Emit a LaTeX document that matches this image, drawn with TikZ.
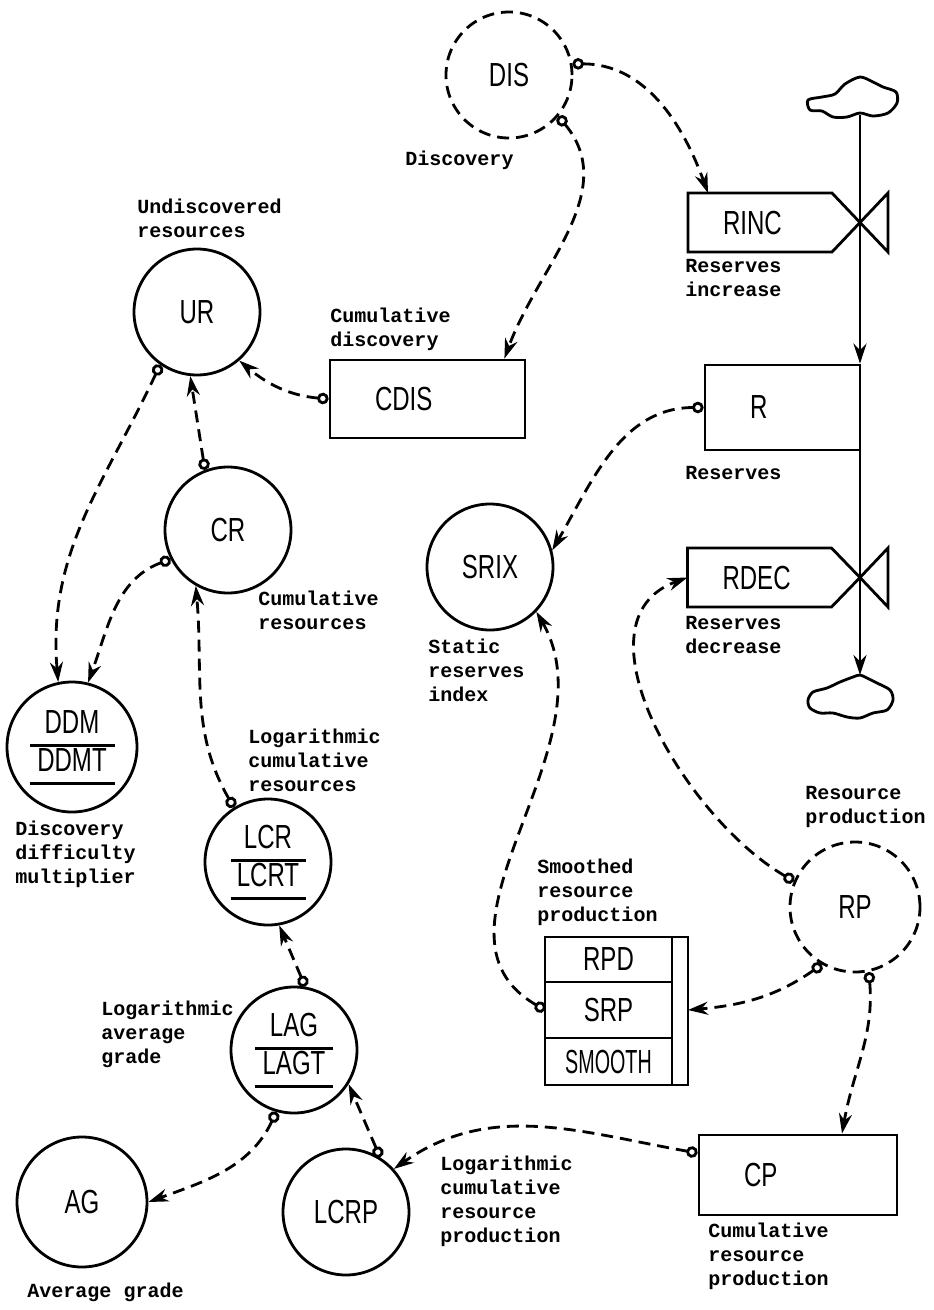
\documentclass[tikz,border=0pt]{standalone}
\usepackage{fontspec}
\usepackage{tikz}
\usetikzlibrary{arrows.meta}

\newfontfamily\namefont[FakeStretch=0.72]{Liberation Sans}
\newfontfamily\notefont{Liberation Mono}
% two stacked names, each with a bar beneath
\newcommand{\tabvar}[3]{\setlength{\arrayrulewidth}{1.6pt}\renewcommand{\arraystretch}{0.9}%
  \begin{tabular}{@{}c@{}}\makebox[#3]{#1}\\\hline\makebox[#3]{#2}\\\hline\end{tabular}}

\begin{document}
\begin{tikzpicture}[
    var/.style={circle,draw,line width=1.6pt,minimum size=2.52cm,inner sep=0pt,
                font=\namefont\fontsize{19}{22}\selectfont},
    auxvar/.style={var,dash pattern=on 2.4mm off 1.4mm},
    levelbox/.style={rectangle,draw,line width=1.6pt,align=left,inner xsep=0.9cm,inner ysep=0pt,
                font=\namefont\fontsize{19}{22}\selectfont},
    ratebox/.style={rectangle,minimum width=2.88cm,minimum height=1.18cm,inner ysep=0pt,
                inner xsep=0.7cm,text width=1.48cm,align=left,outer sep=0pt,
                font=\namefont\fontsize{19}{22}\selectfont},
    cell/.style={rectangle,draw,line width=1.6pt,minimum width=2.54cm,inner sep=0pt,outer sep=0pt,
                font=\namefont\fontsize{19}{22}\selectfont},
    note/.style={anchor=north west,inner sep=0pt,align=left,
                font=\notefont\bfseries\fontsize{11.4}{13.6}\selectfont},
    info/.style={line width=1.6pt,dash pattern=on 2.4mm off 1.4mm,
                arrows={Circle[open,length=2.3mm]-Stealth[length=4mm,width=2.6mm]}},
    flow/.style={line width=1.6pt,-{Stealth[length=4mm,width=2.6mm]}}
  ]
  \useasboundingbox (0,0) rectangle (18.68,-26.2);

  \begin{scope}
    \node[auxvar] (dis) at (10.18,-1.50) {DIS};
    \node[var] (ur) at (3.94,-6.24) {UR};
    \node[var] (cr) at (4.56,-10.6) {CR};
    \node[var] (srix) at (9.8,-11.34) {SRIX};
    \node[var,minimum size=2.6cm] (ddm) at (1.44,-14.94) {\tabvar{DDM}{DDMT}{1.7cm}};
    \node[var] (lcr) at (5.36,-17.24) {\tabvar{LCR}{LCRT}{1.5cm}};
    \node[var] (lag) at (5.88,-21.0) {\tabvar{LAG}{LAGT}{1.55cm}};
    \node[var,minimum size=2.6cm] (ag) at (1.64,-24.04) {AG};
    \node[var] (lcrp) at (6.92,-24.24) {LCRP};
    \node[auxvar,minimum size=2.6cm] (rp) at (17.1,-18.14) {RP};
  \end{scope}

  \begin{scope}
    \node[levelbox,minimum width=3.9cm,minimum height=1.56cm,text width=2.1cm] (cdis) at (8.55,-7.98) {CDIS};
    \node[levelbox,minimum width=3.1cm,minimum height=1.7cm,text width=1.3cm] (r) at (15.65,-8.15) {R};
    \node[levelbox,minimum width=3.96cm,minimum height=1.6cm,text width=2.16cm] (cp) at (15.96,-23.5) {CP};
    \node[ratebox] (rinc) at (15.2,-4.45) {RINC};
    \node[ratebox] (rdec) at (15.19,-11.55) {RDEC};
    \coordinate (vinc) at (17.2,-4.45);
    \coordinate (vdec) at (17.2,-11.55);
    \node[cell,minimum height=0.9cm] (rpd) at (12.17,-19.19) {RPD};
    \node[cell,minimum height=1.12cm] (srp) at (12.17,-20.2) {SRP};
    \node[cell,minimum height=0.94cm] (smooth) at (12.17,-21.23) {\scalebox{0.82}[1]{SMOOTH}};
    \coordinate (cloudin) at (17.2,-2.3);
    \coordinate (cloudout) at (17.2,-13.5);
  \end{scope}

  \begin{scope}[line width=1.6pt,line join=miter]
    \draw (rinc.north west) -- (rinc.north east) -- (vinc) -- (rinc.south east) -- (rinc.south west) -- cycle;
    \draw (vinc) -- ++(0.56,0.59) -- ++(0,-1.18) -- cycle;
    \draw (rdec.north west) -- (rdec.north east) -- (vdec) -- (rdec.south east) -- (rdec.south west) -- cycle;
    \draw (vdec) -- ++(0.56,0.59) -- ++(0,-1.18) -- cycle;
    \draw (rpd.north west) rectangle ([xshift=0.32cm]smooth.south east);
    \draw[line join=round] plot[smooth cycle] coordinates {(16.2,-2.2) (16.16,-2.0) (16.44,-1.94) (16.7,-1.88)
      (16.9,-1.68) (17.2,-1.54) (17.46,-1.64) (17.66,-1.74) (17.92,-1.84) (17.94,-2.06) (17.76,-2.26)
      (17.46,-2.32) (17.2,-2.26) (16.94,-2.34) (16.66,-2.34) (16.44,-2.22)};
    \draw[line join=round] plot[smooth cycle] coordinates {(16.16,-14.0) (16.26,-13.84) (16.54,-13.76)
      (16.8,-13.64) (17.06,-13.54) (17.2,-13.5) (17.34,-13.56) (17.54,-13.66) (17.8,-13.8) (17.86,-14.0)
      (17.74,-14.2) (17.46,-14.26) (17.2,-14.36) (16.94,-14.34) (16.66,-14.26) (16.4,-14.26) (16.2,-14.16)};
    \draw[flow] (cloudin) -- (r.north -| vinc);
    \draw[flow] (r.south -| vdec) -- (cloudout);
  \end{scope}

  \begin{scope}
    \draw[info] (dis.10) to[out=0,in=110] ([xshift=0.4cm]rinc.north west);
    \draw[info] (dis.-40) to[out=-50,in=70] ([xshift=-0.44cm]cdis.north east);
    \draw[info] (cdis.west) to[out=175,in=-40] (ur.311);
    \draw[info] (ur.235) to[out=245,in=95] (ddm.102);
    \draw[info] (cr.111) -- (ur.264);
    \draw[info] (cr.207) to[out=200,in=70] (ddm.76);
    \draw[info] (lcr.122) to[out=120,in=-85] (cr.240);
    \draw[info] (lag.80) -- (lcr.-80);
    \draw[info] (lcrp.58) -- (lag.-32);
    \draw[info] (lag.254) to[out=245,in=20] (ag.0);
    \draw[info] ([yshift=0.44cm]cp.west) to[out=170,in=35] (lcrp.42);
    \draw[info] (rp.282) to[out=-85,in=80] ([xshift=0.88cm]cp.north);
    \draw[info] (rp.240) to[out=215,in=5] ([xshift=0.32cm]srp.east);
    \draw[info] (srp.west) to[out=150,in=-60] (srix.-44);
    \draw[info] (rp.157) to[out=150,in=200] (rdec.west);
    \draw[info] (r.west) to[out=180,in=60] (srix.15);
  \end{scope}

  \node[note] (ndis) at (8.1,-3.02) {Discovery};
  \node[note] (nur) at (2.74,-3.98) {Undiscovered\\resources};
  \node[note] (ncdis) at (6.6,-6.16) {Cumulative\\discovery};
  \node[note] (nrinc) at (13.7,-5.18) {Reserves\\increase};
  \node[note] (nr) at (13.7,-9.32) {Reserves};
  \node[note] (ncr) at (5.16,-11.82) {Cumulative\\resources};
  \node[note] (nsrix) at (8.56,-12.78) {Static\\reserves\\index};
  \node[note] (nrdec) at (13.7,-12.32) {Reserves\\decrease};
  \node[note] (nddm) at (0.3,-16.42) {Discovery\\difficulty\\multiplier};
  \node[note] (nlcr) at (4.96,-14.58) {Logarithmic\\cumulative\\resources};
  \node[note] (nrp) at (16.1,-15.72) {Resource\\production};
  \node[note] (nsrp) at (10.74,-17.18) {Smoothed\\resource\\production};
  \node[note] (nlag) at (2.02,-20.02) {Logarithmic\\average\\grade};
  \node[note] (nlcrp) at (8.8,-23.12) {Logarithmic\\cumulative\\resource\\production};
  \node[note] (ncp) at (14.16,-24.46) {Cumulative\\resource\\production};
  \node[note] (nag) at (0.54,-25.66) {Average grade};
\end{tikzpicture}
\end{document}
